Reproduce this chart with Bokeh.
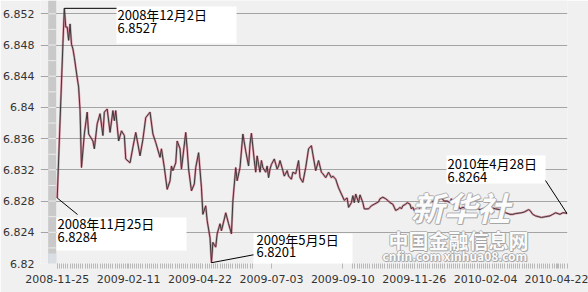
from bokeh.plotting import figure
from bokeh.models import Range1d, FixedTicker
from bokeh.core.properties import value
from bokeh.embed import file_html
from bokeh.resources import INLINE

# ---- data (trading-day index, CNY central parity) ----
day_idx = [0, 4, 5, 6, 7, 8, 9, 10, 11, 12, 14, 15, 16, 17, 19, 21, 22, 25, 26, 28,
           30, 32, 33, 35, 37, 39, 40, 41, 43, 45, 47, 48, 51, 53, 55, 58, 60, 62, 65, 67,
           69, 72, 73, 75, 77, 79, 80, 81, 83, 84, 86, 87, 90, 91, 92, 94, 96, 97, 99, 101,
           102, 104, 105, 107, 108, 109, 111, 112, 114, 115, 117, 118, 120, 122, 123, 125, 126, 128, 130, 132,
           134, 135, 136, 138, 139, 140, 141, 142, 143, 144, 146, 147, 148, 149, 150, 152, 154, 155, 156, 158,
           159, 161, 162, 164, 165, 167, 169, 170, 172, 174, 176, 178, 179, 181, 183, 185, 186, 188, 190, 192,
           193, 195, 197, 199, 201, 203, 204, 206, 207, 208, 209, 211, 212, 214, 215, 218, 219, 220, 222, 225,
           226, 228, 230, 232, 233, 235, 236, 237, 239, 240, 241, 242, 244, 245, 247, 248, 249, 250, 251, 253,
           254, 255, 257, 258, 260, 262, 263, 265, 266, 268, 269, 271, 273, 275, 276, 277, 278, 281, 282, 284,
           286, 289, 291, 293, 296, 298, 300, 303, 305, 307, 310, 312, 314, 317, 319, 321, 325, 327, 329, 330,
           331, 333, 335, 339, 342, 345, 347, 349, 352, 354, 355, 357]
rate = [6.8284, 6.8482, 6.8527, 6.8503, 6.8503, 6.8486, 6.8507, 6.8481, 6.8475, 6.8464, 6.8438, 6.8426, 6.8396, 6.8323, 6.8366, 6.8394, 6.8366, 6.8357, 6.8347, 6.8379,
        6.8392, 6.8364, 6.8394, 6.8398, 6.8368, 6.8396, 6.8383, 6.8396, 6.8357, 6.8370, 6.8364, 6.8334, 6.8329, 6.8349, 6.8368, 6.8338, 6.8359, 6.8387, 6.8394, 6.8366,
        6.8355, 6.8336, 6.8347, 6.8323, 6.8295, 6.8306, 6.8325, 6.8319, 6.8329, 6.8357, 6.8347, 6.8321, 6.8368, 6.8347, 6.8321, 6.8293, 6.8302, 6.8323, 6.8342, 6.8297,
        6.8263, 6.8274, 6.8255, 6.8233, 6.8201, 6.8227, 6.8221, 6.8238, 6.8251, 6.8242, 6.8257, 6.8265, 6.8251, 6.8238, 6.8280, 6.8323, 6.8306, 6.8323, 6.8366, 6.8344,
        6.8325, 6.8353, 6.8367, 6.8332, 6.8317, 6.8338, 6.8327, 6.8317, 6.8332, 6.8323, 6.8317, 6.8325, 6.8310, 6.8321, 6.8327, 6.8334, 6.8321, 6.8325, 6.8332, 6.8319,
        6.8312, 6.8319, 6.8312, 6.8308, 6.8317, 6.8315, 6.8332, 6.8310, 6.8304, 6.8323, 6.8347, 6.8351, 6.8340, 6.8319, 6.8332, 6.8317, 6.8315, 6.8310, 6.8317, 6.8310,
        6.8312, 6.8308, 6.8297, 6.8289, 6.8281, 6.8284, 6.8272, 6.8278, 6.8287, 6.8278, 6.8289, 6.8278, 6.8288, 6.8278, 6.8270, 6.8270, 6.8272, 6.8274, 6.8276, 6.8279,
        6.8283, 6.8285, 6.8283, 6.8280, 6.8278, 6.8276, 6.8272, 6.8268, 6.8270, 6.8272, 6.8270, 6.8274, 6.8276, 6.8278, 6.8276, 6.8270, 6.8272, 6.8268, 6.8270, 6.8268,
        6.8272, 6.8274, 6.8276, 6.8278, 6.8278, 6.8280, 6.8279, 6.8282, 6.8280, 6.8283, 6.8284, 6.8280, 6.8280, 6.8278, 6.8283, 6.8278, 6.8280, 6.8274, 6.8270, 6.8272,
        6.8271, 6.8273, 6.8271, 6.8272, 6.8269, 6.8270, 6.8271, 6.8269, 6.8271, 6.8270, 6.8269, 6.8268, 6.8265, 6.8263, 6.8263, 6.8264, 6.8265, 6.8266, 6.8268, 6.8269,
        6.8268, 6.8263, 6.8261, 6.8259, 6.8260, 6.8261, 6.8263, 6.8265, 6.8263, 6.8265, 6.8265, 6.8264]

x_tick_pos = [0, 50, 100, 150, 200, 250, 300, 350]
x_tick_labels = ["2008-11-25", "2009-02-11", "2009-04-22", "2009-07-03",
                 "2009-09-10", "2009-11-26", "2010-02-04", "2010-04-22"]
y_ticks = [6.82, 6.824, 6.828, 6.832, 6.836, 6.84, 6.844, 6.848, 6.852]
y_tick_labels = ["6.82", "6.824", "6.828", "6.832", "6.836", "6.84", "6.844", "6.848", "6.852"]

ann_idx = [5, 0, 108, 357]
ann_rate = [6.8527, 6.8284, 6.8201, 6.8264]
ann_date = ["2008年12月2日", "2008年11月25日", "2009年5月5日", "2010年4月28日"]
ann_text = ["6.8527", "6.8284", "6.8201", "6.8264"]

# ---- layout (pixels) ----
W, H = 588, 292
FL, FR, FT, FB = 40, 567, 0, 263
X0, X1 = -11.7, 357.3
Y0 = 6.82
Y1 = 6.82 + (FB - FT) / 7803.0

def px2x(px):
    return X0 + (px - FL) * (X1 - X0) / (FR - FL)

def py2y(py):
    return Y1 - (py - FT) * (Y1 - Y0) / (FB - FT)

BG = "#f0f0f0"
p = figure(width=W, height=H, x_range=Range1d(X0, X1), y_range=Range1d(Y0, Y1),
           output_backend="svg", toolbar_location=None,
           min_border_left=FL, min_border_right=W - FR,
           min_border_top=FT, min_border_bottom=H - FB)
p.background_fill_color = BG
p.border_fill_color = BG
p.outline_line_color = None

# grid
p.xgrid.visible = False
p.ygrid.grid_line_color = "#a4a4a4"
p.ygrid.grid_line_width = 1

# y axis
p.yaxis.ticker = FixedTicker(ticks=y_ticks)
p.yaxis.major_label_overrides = dict(zip(y_ticks, y_tick_labels))
p.yaxis.axis_line_color = None
p.yaxis.major_tick_out = 0
p.yaxis.major_tick_in = 0
p.yaxis.minor_tick_line_color = None
p.yaxis.major_label_standoff = 6
p.yaxis.major_label_text_font = "DejaVu Sans"
p.yaxis.major_label_text_font_size = "11px"
p.yaxis.major_label_text_color = "#333333"

# x axis with comb of small ticks
box3_l, box3_r = 253, 352
comb = []
k = 0.0
while k <= 357.3:
    xp = FL + (k - X0) * (FR - FL) / (X1 - X0)
    if not (box3_l <= xp <= box3_r):
        comb.append(round(k, 2))
    k += 1.5
p.xaxis.ticker = FixedTicker(ticks=x_tick_pos, minor_ticks=comb)
p.xaxis.major_label_overrides = dict(zip(x_tick_pos, x_tick_labels))
p.xaxis.axis_line_color = None
p.xaxis.major_tick_out = 5
p.xaxis.major_tick_in = 0
p.xaxis.minor_tick_out = 5
p.xaxis.minor_tick_in = 0
p.xaxis.major_tick_line_color = "#b8b8b8"
p.xaxis.minor_tick_line_color = "#b8b8b8"
p.xaxis.major_label_standoff = 6
p.xaxis.major_label_text_font = "DejaVu Sans"
p.xaxis.major_label_text_font_size = "11px"
p.xaxis.major_label_text_color = "#333333"

# left gray bar (scroll-like strip) with light ticks
p.quad(left=[px2x(47.7)], right=[px2x(55.7)], bottom=[Y0], top=[Y1],
       fill_color="#c9c9c9", line_color=None)
p.quad(left=[px2x(47.7)], right=[px2x(55.7)], bottom=[Y0], top=[py2y(253)],
       fill_color="#d9dee5", line_color=None)
bar_ticks = [6.82 + 0.002 * i for i in range(1, 17)]
p.segment(x0=[px2x(48)] * len(bar_ticks), x1=[px2x(55.3)] * len(bar_ticks),
          y0=bar_ticks, y1=bar_ticks, line_color="#ececec", line_width=1)

# series
p.line(day_idx, rate, line_color="#cc3355", line_width=2.2, line_alpha=0.5)
p.line(day_idx, rate, line_color="#3a3a3a", line_width=1)

# watermark (gray outline + white face)
def wm(txt, cx, cy, size, italic=False):
    style = "bold italic" if italic else "bold"
    for ox, oy in [(-1, 0), (1, 0), (0, -1), (0, 1), (1, 1)]:
        p.text(x=[px2x(cx + ox)], y=[py2y(cy + oy)], text=[txt], text_align="center",
               text_baseline="middle", text_font=value("Noto Sans CJK SC"),
               text_font_size=size, text_font_style=style, text_color="#a2a2a2", text_alpha=0.75)
    p.text(x=[px2x(cx)], y=[py2y(cy)], text=[txt], text_align="center",
           text_baseline="middle", text_font=value("Noto Sans CJK SC"),
           text_font_size=size, text_font_style=style, text_color="#fbfbfb", text_alpha=1.0)

wm("新华社", 460, 206, "33px", italic=True)
wm("中国金融信息网", 458, 240, "20px")
wm("cnfin.com   xinhua08.com", 457, 255, "12px")

# annotation boxes (pixel layout: left, right, top, bottom)
boxes = [(116, 236, 6, 43), (56, 186, 217, 250), (253, 352, 233, 268), (446, 545, 155, 183)]
p.quad(left=[px2x(b[0]) for b in boxes], right=[px2x(b[1]) for b in boxes],
       top=[py2y(b[2]) for b in boxes], bottom=[py2y(b[3]) for b in boxes],
       fill_color="white", line_color=None)

# connectors
ends = [(116, None), (77, 214), (253, 254.3), (545, 180)]
p.segment(x0=ann_idx, y0=ann_rate,
          x1=[px2x(e[0]) for e in ends],
          y1=[ann_rate[i] if e[1] is None else py2y(e[1]) for i, e in enumerate(ends)],
          line_color="black", line_width=1)

# annotation texts (left px, line-1 centre px, line-2 centre px)
tpos = [(117, 13.5, 27), (57, 222.7, 236.5), (256, 238.7, 251.5), (447, 163, 176.5)]
for lines_y, texts in ((1, ann_date), (2, ann_text)):
    p.text(x=[px2x(t[0]) for t in tpos], y=[py2y(t[lines_y]) for t in tpos],
           text=texts, text_align="left", text_baseline="middle",
           text_font=value("Noto Sans CJK SC"), text_font_size="13px", text_color="black")

open("out.html", "w").write(file_html(p, INLINE))
